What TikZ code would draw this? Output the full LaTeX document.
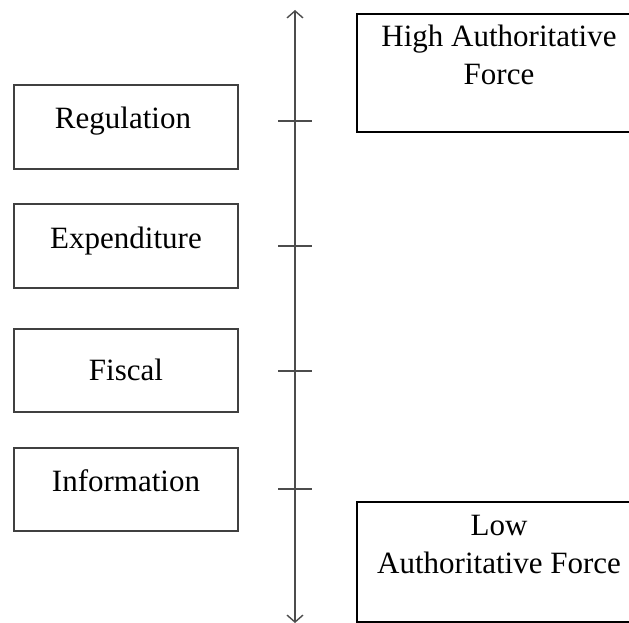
\documentclass[tikz,border=0pt]{standalone}
\usepackage{fontspec}
\setmainfont{Liberation Serif}
\usetikzlibrary{arrows.meta}
\begin{document}
\begin{tikzpicture}[x=1pt,y=-1pt,
  instbox/.style={draw=black!75,line width=1.3pt},
  forcebox/.style={draw=black,line width=2.4pt},
  lbl/.style={anchor=base,inner sep=0pt,font=\fontsize{31}{36}\selectfont},
  axisline/.style={draw=black!70,line width=1.4pt},
  tickmark/.style={draw=black!70,line width=1.4pt}]
\useasboundingbox (0,0) rectangle (629,623);

% instrument boxes on the left
\draw[instbox] (14,85) rectangle (238,169);
\node[lbl] (reg) at (123,129) {Regulation};
\draw[instbox] (14,204) rectangle (238,288);
\node[lbl] (exp) at (126,248) {Expenditure};
\draw[instbox] (14,329) rectangle (238,412);
\node[lbl] (fis) at (126,380) {Fiscal};
\draw[instbox] (14,448) rectangle (238,531);
\node[lbl] (inf) at (126,491) {Information};

% vertical scale with ticks
\coordinate (top) at (295,10);
\coordinate (bot) at (295,623);
\draw[axisline,{Straight Barb[length=7pt,width=16pt]}-{Straight Barb[length=7pt,width=16pt]}] (top) -- (bot);
\foreach \y/\n in {121/t1,246/t2,371/t3,489/t4}{
  \coordinate (\n a) at (278,\y);
  \coordinate (\n b) at (312,\y);
  \draw[tickmark] (\n a) -- (\n b);
}

% force boxes on the right
\draw[forcebox] (357,14) rectangle (640,132);
\node[lbl] (hi1) at (499,47) {High Authoritative};
\node[lbl] (hi2) at (499,85) {Force};
\draw[forcebox] (357,502) rectangle (640,622);
\node[lbl] (lo1) at (499,535) {Low};
\node[lbl] (lo2) at (499,573) {Authoritative Force};
\end{tikzpicture}
\end{document}
